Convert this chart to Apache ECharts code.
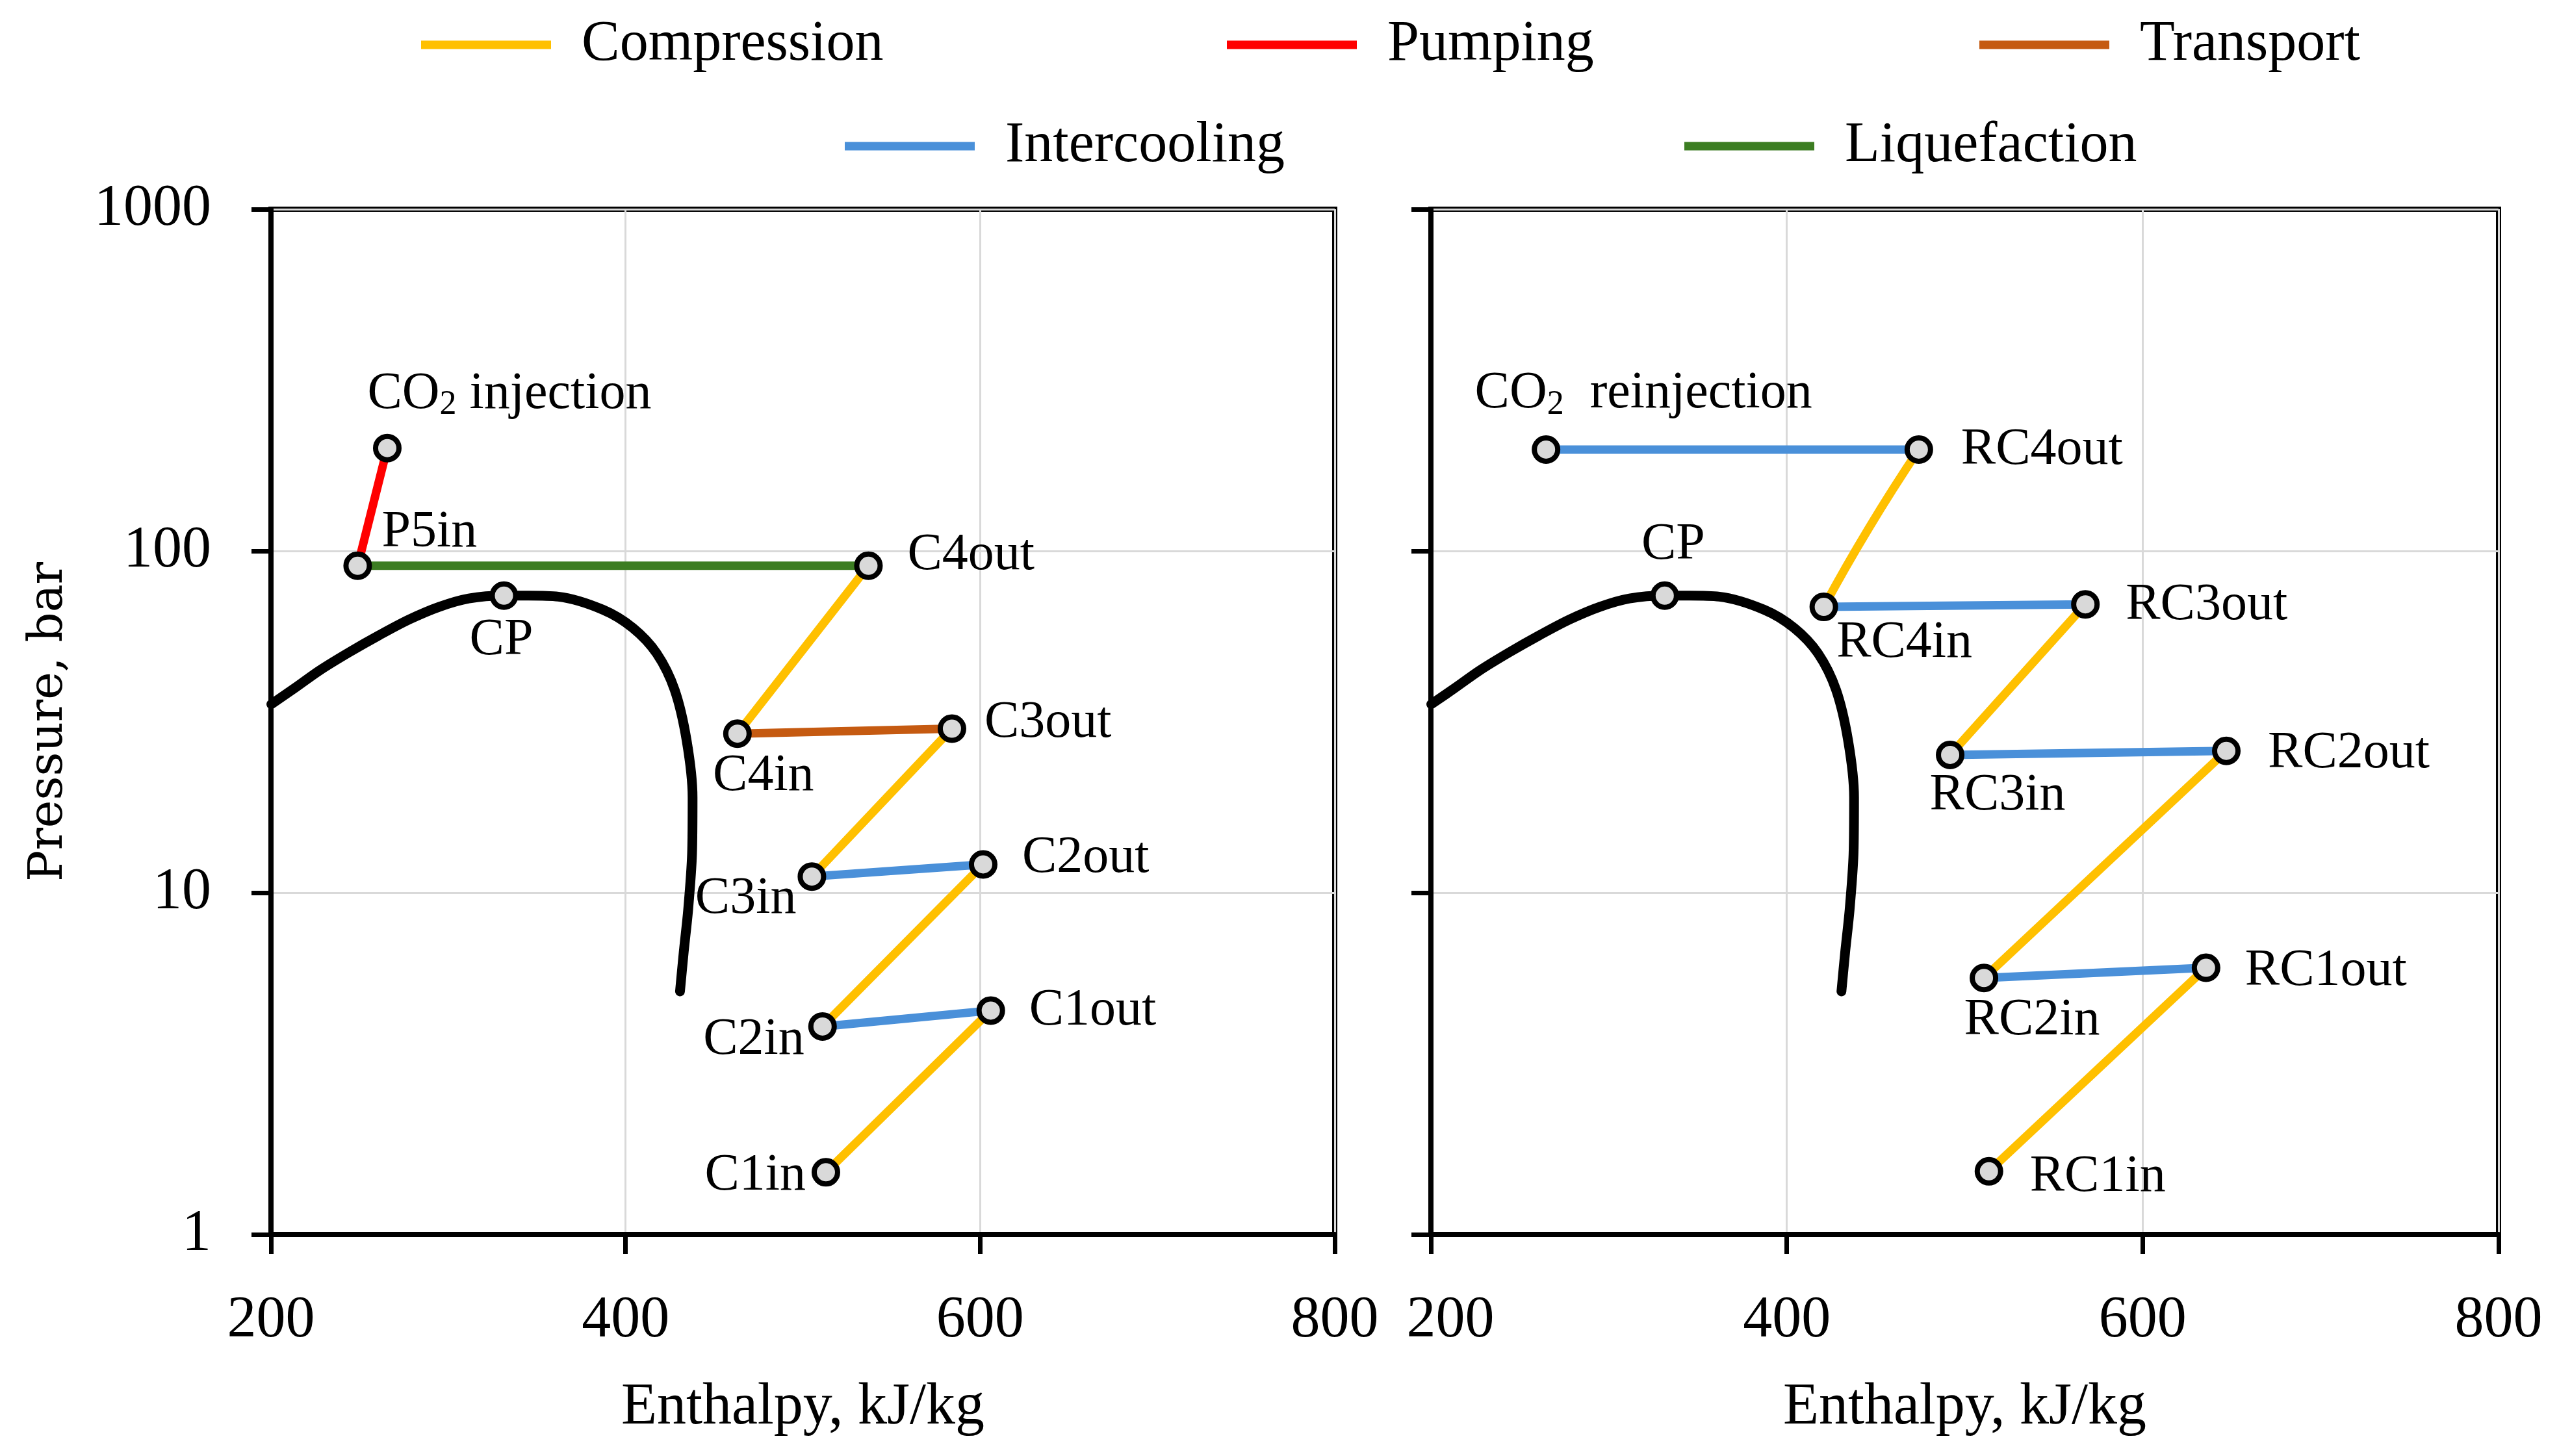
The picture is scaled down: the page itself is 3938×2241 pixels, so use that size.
<!DOCTYPE html>
<html>
<head>
<meta charset="utf-8">
<script src="https://cdn.jsdelivr.net/npm/echarts@6/dist/echarts.min.js"></script>
<style>
html,body{margin:0;padding:0;background:#ffffff;}
#chart{width:3938px;height:2241px;}
</style>
</head>
<body>
<div id="chart"></div>
<script>
// ---------------- DATA ----------------
const xTicks = [200, 400, 600, 800];          // Enthalpy, kJ/kg
const yTicks = [1, 10, 100, 1000];            // Pressure, bar (log)

// CO2 saturation dome (h, p)
const domeH = [200.2, 214.0, 227.4, 244.3, 261.1, 277.9, 294.8, 311.6, 331.4, 345.3, 362.1, 387.3, 404.2, 417.6, 427.7, 434.5, 437.8, 437.5, 435.3, 432.8, 430.7];
const domeP = [35.6, 39.9, 44.7, 50.6, 56.7, 63.0, 68.6, 72.6, 74.0, 74.0, 73.5, 67.3, 59.5, 50.1, 39.2, 27.8, 19.0, 13.0, 8.91, 6.70, 5.14];

// Left panel state points
const leftNames = ['CO2 injection', 'P5in', 'C4out', 'C4in', 'C3out', 'C3in', 'C2out', 'C2in', 'C1out', 'C1in', 'CP'];
const leftH     = [265.6, 248.9, 537.0, 463.1, 584.1, 505.1, 601.7, 511.1, 606.0, 513.0, 331.4];
const leftP     = [200, 90.5, 90.5, 29.2, 30.2, 11.15, 12.1, 4.06, 4.52, 1.52, 74.0];

// Right panel state points
const rightNames = ['CO2 reinjection', 'RC4out', 'RC4in', 'RC3out', 'RC3in', 'RC2out', 'RC2in', 'RC1out', 'RC1in', 'CP'];
const rightH     = [264.7, 474.2, 420.8, 567.8, 491.8, 647.0, 510.8, 635.6, 513.6, 331.4];
const rightP     = [198, 198, 68.6, 69.8, 25.3, 26.0, 5.63, 6.03, 1.53, 74.0];

// Intermediate point on the RC4 compression curve
const rc4MidH = [446.0];
const rc4MidP = [116.4];

// Process paths (process, from, to)
const leftPaths = [
  ['Compression', 'C1in', 'C1out'],
  ['Intercooling', 'C1out', 'C2in'],
  ['Compression', 'C2in', 'C2out'],
  ['Intercooling', 'C2out', 'C3in'],
  ['Compression', 'C3in', 'C3out'],
  ['Transport', 'C3out', 'C4in'],
  ['Compression', 'C4in', 'C4out'],
  ['Liquefaction', 'C4out', 'P5in'],
  ['Pumping', 'P5in', 'CO2 injection']
];
const rightPaths = [
  ['Compression', 'RC1in', 'RC1out'],
  ['Intercooling', 'RC1out', 'RC2in'],
  ['Compression', 'RC2in', 'RC2out'],
  ['Intercooling', 'RC2out', 'RC3in'],
  ['Compression', 'RC3in', 'RC3out'],
  ['Intercooling', 'RC3out', 'RC4in'],
  ['Compression', 'RC4in', 'RC4out'],
  ['Intercooling', 'RC4out', 'CO2 reinjection']
];

const processNames = ['Compression', 'Pumping', 'Transport', 'Intercooling', 'Liquefaction'];

// ---------------- STYLE ----------------
const FONT = 'Liberation Serif';
const processColors = {
  'Compression': '#FFC000',
  'Pumping': '#FF0000',
  'Transport': '#C55A11',
  'Intercooling': '#4A90D9',
  'Liquefaction': '#3C7D22'
};
// label placement: [dx, dy, align] relative to point centre (pixels)
const leftPlace = {
  'CO2 injection': [192, -79, 'center'],
  'P5in': [41, -47, 'left'],
  'C4out': [64, -12, 'left'],
  'CP': [0, 73, 'center'],
  'C4in': [44, 70, 'center'],
  'C3out': [54, -5, 'left'],
  'C3in': [-20, 39, 'right'],
  'C2out': [64, -5, 'left'],
  'C2in': [-24, 25, 'right'],
  'C1out': [63, 5, 'left'],
  'C1in': [-27, 10, 'right']
};
const rightPlace = {
  'CO2 reinjection': [154, -82, 'center'],
  'RC4out': [69, 5, 'left'],
  'CP': [17, -74, 'center'],
  'RC4in': [128, 60, 'center'],
  'RC3out': [66, 6, 'left'],
  'RC3in': [77, 67, 'center'],
  'RC2out': [68, 8, 'left'],
  'RC2in': [78, 70, 'center'],
  'RC1out': [64, 9, 'left'],
  'RC1in': [67, 13, 'left']
};
const legendPos = {
  'Compression': [643, 14],
  'Pumping': [1883, 14],
  'Transport': [3041, 14],
  'Intercooling': [1295, 170],
  'Liquefaction': [2587, 170]
};

const SYM = 36;
const LW = 13;

function labelText(n) {
  return n.replace('CO2 ', 'CO{sub|2}  ').replace('CO{sub|2}  injection', 'CO{sub|2} injection');
}

function pointSeries(names, H, P, place, idx) {
  return {
    type: 'scatter',
    xAxisIndex: idx, yAxisIndex: idx,
    symbol: 'circle', symbolSize: SYM,
    silent: true, z: 10,
    itemStyle: { color: '#D9D9D9', borderColor: '#000', borderWidth: 8, opacity: 1 },
    label: {
      show: true,
      formatter: p => labelText(p.name),
      fontFamily: FONT, fontSize: 80, color: '#000',
      verticalAlign: 'middle',
      rich: {
        sub: { fontFamily: FONT, fontSize: 52, color: '#000', padding: [34, 0, 0, 0] }
      }
    },
    data: names.map((n, i) => ({
      name: n,
      value: [H[i], P[i]],
      label: {
        position: [SYM / 2 + place[n][0], SYM / 2 + place[n][1]],
        align: place[n][2]
      }
    }))
  };
}

function lookup(names, H, P) {
  const m = {};
  names.forEach((n, i) => { m[n] = [H[i], P[i]]; });
  return m;
}

function pathSeries(paths, names, H, P, idx, extra) {
  const m = lookup(names, H, P);
  return paths.map(([proc, a, b]) => {
    let data = [m[a], m[b]];
    let smooth = false;
    if (extra && extra[a + '>' + b]) {
      data = [m[a]].concat(extra[a + '>' + b]).concat([m[b]]);
      smooth = 0.5;
    }
    return {
      type: 'line', name: proc,
      xAxisIndex: idx, yAxisIndex: idx,
      data: data, smooth: smooth,
      symbol: 'none', showSymbol: false, silent: true, z: 4,
      color: processColors[proc],
      lineStyle: { color: processColors[proc], width: LW, cap: 'round' },
      itemStyle: { color: processColors[proc] }
    };
  });
}

function domeSeries(idx) {
  return {
    type: 'line', name: 'dome',
    xAxisIndex: idx, yAxisIndex: idx,
    data: domeH.map((h, i) => [h, domeP[i]]),
    smooth: 0.3, symbol: 'none', showSymbol: false, silent: true, z: 3,
    lineStyle: { color: '#000', width: 15, cap: 'round', join: 'round' }
  };
}

function xAxis(idx, shiftMin) {
  return {
    type: 'value', gridIndex: idx,
    min: xTicks[0], max: xTicks[xTicks.length - 1], interval: xTicks[1] - xTicks[0],
    name: 'Enthalpy, kJ/kg', nameLocation: 'middle', nameGap: 222,
    nameTextStyle: { fontFamily: FONT, fontSize: 90, color: '#000' },
    axisLine: { show: true, lineStyle: { color: '#000', width: 8 } },
    axisTick: { show: true, inside: false, length: 30, lineStyle: { color: '#000', width: 7 } },
    axisLabel: {
      show: true, margin: 88, fontFamily: FONT, fontSize: 90, color: '#000',
      formatter: (v, i) => (shiftMin && i === 0) ? '{s|' + v + '}' : String(v),
      rich: { s: { fontFamily: FONT, fontSize: 90, color: '#000', padding: [0, 0, 0, 60] } }
    },
    splitLine: { show: true, lineStyle: { color: '#D9D9D9', width: 3 } }
  };
}

function yAxis(idx, showLabels) {
  return {
    type: 'log', logBase: 10, gridIndex: idx,
    min: yTicks[0], max: yTicks[yTicks.length - 1],
    name: showLabels ? 'Pressure, bar' : '', nameLocation: 'middle', nameGap: 305, nameRotate: 90,
    nameTextStyle: { fontFamily: 'DejaVu Serif', fontSize: 72, color: '#000' },
    axisLine: { show: true, lineStyle: { color: '#000', width: 8 } },
    axisTick: { show: true, inside: false, length: 30, lineStyle: { color: '#000', width: 7 } },
    axisLabel: {
      show: showLabels, margin: 92, fontFamily: FONT, fontSize: 90, color: '#000',
      formatter: v => String(Math.round(v))
    },
    splitLine: { show: true, lineStyle: { color: '#D9D9D9', width: 3 } }
  };
}

const legends = processNames.map(n => ({
  data: [n],
  left: legendPos[n][0], top: legendPos[n][1],
  icon: 'rect', itemWidth: 200, itemHeight: 13,
  selectedMode: false,
  textStyle: { fontFamily: FONT, fontSize: 88, color: '#000', padding: [0, 0, 0, 42], lineHeight: 100 }
}));

const option = {
  backgroundColor: '#ffffff',
  animation: false,
  legend: legends,
  grid: [
    { left: 417, right: 3938 - 2054, top: 322, bottom: 2241 - 1900, show: true, borderColor: '#000', borderWidth: 8, backgroundColor: 'transparent' },
    { left: 2202, right: 3938 - 3845, top: 322, bottom: 2241 - 1900, show: true, borderColor: '#000', borderWidth: 8, backgroundColor: 'transparent' }
  ],
  xAxis: [xAxis(0, false), xAxis(1, true)],
  yAxis: [yAxis(0, true), yAxis(1, false)],
  series: [
    domeSeries(0),
    domeSeries(1),
    ...pathSeries(leftPaths, leftNames, leftH, leftP, 0),
    ...pathSeries(rightPaths, rightNames, rightH, rightP, 1,
      { 'RC4in>RC4out': rc4MidH.map((h, i) => [h, rc4MidP[i]]) }),
    pointSeries(leftNames, leftH, leftP, leftPlace, 0),
    pointSeries(rightNames, rightH, rightP, rightPlace, 1)
  ]
};

const chart = echarts.init(document.getElementById('chart'), null, { renderer: 'canvas' });
chart.setOption(option);
</script>
</body>
</html>
